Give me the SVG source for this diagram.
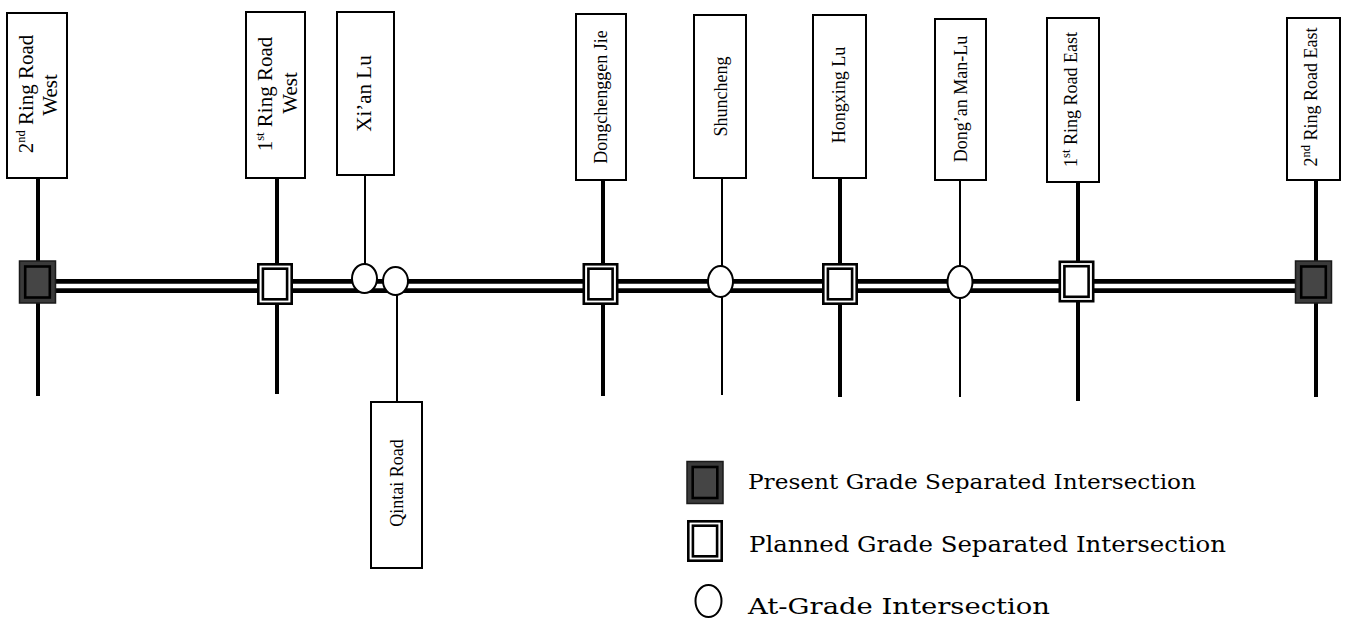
<svg xmlns="http://www.w3.org/2000/svg" xmlns:xlink="http://www.w3.org/1999/xlink" width="1347" height="619" viewBox="0 0 1347 619">
  <style>
    .box { fill: #fff; stroke: #000; stroke-width: 2; }
    .lbl { font-family: "Liberation Serif", "Times New Roman", serif; fill: #000; text-anchor: middle; }
    .lbl20 { font-size: 21px; }
    .lbl18 { font-size: 18px; }
    .sup { font-size: 12.5px; }
    .thick { stroke: #000; stroke-width: 4; fill: none; }
    .thin { stroke: #000; stroke-width: 2; fill: none; }
    .atgrade { fill: #fff; stroke: #000; stroke-width: 2; }
    .legend { font-family: "DejaVu Serif", "Liberation Serif", serif; fill: #000; }
  </style>
  <defs>
    <!-- existing grade-separated interchange -->
    <g id="sym-present">
      <rect x="-18" y="-21" width="36" height="42" fill="#3a3a3a" stroke="#1a1a1a" stroke-width="1.5"/>
      <rect x="-12.3" y="-15.5" width="24.6" height="31" fill="#454545" stroke="#000" stroke-width="2.6"/>
    </g>
    <!-- planned grade-separated interchange -->
    <g id="sym-planned">
      <rect x="-16.7" y="-19.7" width="33.4" height="39.4" fill="#fff" stroke="#000" stroke-width="2.6"/>
      <rect x="-12.1" y="-15.3" width="24.2" height="30.6" fill="#fff" stroke="#000" stroke-width="2.6"/>
    </g>
  </defs>

  <rect width="1347" height="619" fill="#fff"/>

  <!-- cross streets and the main corridor -->
  <g id="connectors">
    <line class="thick" x1="38" y1="178" x2="38" y2="396"/>
    <line class="thick" x1="277" y1="178" x2="277" y2="394"/>
    <line class="thin" x1="365" y1="175" x2="365" y2="272"/>
    <line class="thin" x1="397" y1="288" x2="397" y2="402"/>
    <line class="thick" x1="603" y1="180" x2="603" y2="396"/>
    <line class="thin" x1="722" y1="178" x2="722" y2="395"/>
    <line class="thick" x1="840" y1="178" x2="840" y2="397"/>
    <line class="thin" x1="960" y1="180" x2="960" y2="397"/>
    <line class="thick" x1="1078" y1="182" x2="1078" y2="401"/>
    <line class="thick" x1="1316" y1="180" x2="1316" y2="397"/>
    <!-- main road: double line -->
    <line x1="38" y1="286" x2="1316" y2="286" stroke="#000" stroke-width="14"/>
    <line x1="38" y1="286" x2="1316" y2="286" stroke="#fff" stroke-width="4.5"/>
  </g>

  <!-- intersections along the corridor -->
  <g id="intersections">
    <use xlink:href="#sym-present" x="37.5" y="282"/>
    <use xlink:href="#sym-planned" x="275" y="284"/>
    <ellipse class="atgrade" cx="364.5" cy="278.5" rx="12.5" ry="14.5"/>
    <ellipse class="atgrade" cx="395.5" cy="281" rx="12.5" ry="14"/>
    <use xlink:href="#sym-planned" x="600.5" y="284"/>
    <ellipse class="atgrade" cx="720.5" cy="281.5" rx="12.5" ry="15.5"/>
    <use xlink:href="#sym-planned" x="840" y="284"/>
    <ellipse class="atgrade" cx="960" cy="282" rx="12.5" ry="16"/>
    <use xlink:href="#sym-planned" x="1076.5" y="281.5"/>
    <use xlink:href="#sym-present" x="1313.5" y="282"/>
  </g>

  <!-- street name boxes -->
  <g id="node-2nd-ring-west">
    <rect class="box" x="7" y="13" width="60" height="165"/>
    <text class="lbl lbl20" transform="translate(33,94) rotate(-90)">2<tspan class="sup" dy="-8">nd</tspan><tspan dy="8"> Ring Road</tspan></text>
    <text class="lbl lbl20" transform="translate(57,95) rotate(-90)">West</text>
  </g>
  <g id="node-1st-ring-west">
    <rect class="box" x="246" y="12" width="59" height="166"/>
    <text class="lbl lbl20" transform="translate(272,94) rotate(-90)">1<tspan class="sup" dy="-8">st</tspan><tspan dy="8"> Ring Road</tspan></text>
    <text class="lbl lbl20" transform="translate(296.5,93) rotate(-90)">West</text>
  </g>
  <g id="node-xian-lu">
    <rect class="box" x="337" y="12" width="57" height="163"/>
    <text class="lbl lbl20" transform="translate(371,93.5) rotate(-90)">Xi’an Lu</text>
  </g>
  <g id="node-qintai-road">
    <rect class="box" x="371" y="402" width="51" height="166"/>
    <text class="lbl lbl18" transform="translate(403,483) rotate(-90)">Qintai Road</text>
  </g>
  <g id="node-dongchenggen-jie">
    <rect class="box" x="576" y="14" width="50" height="166"/>
    <text class="lbl lbl18" transform="translate(607,97) rotate(-90)">Dongchenggen Jie</text>
  </g>
  <g id="node-shuncheng">
    <rect class="box" x="694" y="15" width="52" height="163"/>
    <text class="lbl lbl18" transform="translate(727,96.5) rotate(-90)">Shuncheng</text>
  </g>
  <g id="node-hongxing-lu">
    <rect class="box" x="813" y="15" width="53" height="163"/>
    <text class="lbl lbl18" transform="translate(845,95) rotate(-90)">Hongxing Lu</text>
  </g>
  <g id="node-dongan-man-lu">
    <rect class="box" x="935" y="19" width="51" height="161"/>
    <text class="lbl lbl18" transform="translate(967,99) rotate(-90)">Dong’an Man-Lu</text>
  </g>
  <g id="node-1st-ring-east">
    <rect class="box" x="1047" y="18" width="52" height="164"/>
    <text class="lbl lbl18" transform="translate(1077,99.5) rotate(-90)">1<tspan class="sup" dy="-7">st</tspan><tspan dy="7"> Ring Road East</tspan></text>
  </g>
  <g id="node-2nd-ring-east">
    <rect class="box" x="1287" y="18" width="53" height="162"/>
    <text class="lbl lbl18" transform="translate(1317,97) rotate(-90)">2<tspan class="sup" dy="-7">nd</tspan><tspan dy="7"> Ring Road East</tspan></text>
  </g>

  <!-- key -->
  <g id="legend">
    <use xlink:href="#sym-present" x="705" y="482.5"/>
    <text class="legend" x="748" y="489" font-size="20" textLength="448" lengthAdjust="spacingAndGlyphs">Present Grade Separated Intersection</text>
    <use xlink:href="#sym-planned" x="705" y="541"/>
    <text class="legend" x="749" y="552" font-size="23" textLength="477" lengthAdjust="spacingAndGlyphs">Planned Grade Separated Intersection</text>
    <ellipse class="atgrade" cx="708.5" cy="601" rx="13" ry="16" stroke-width="1.6"/>
    <text class="legend" x="748" y="614" font-size="23" textLength="302" lengthAdjust="spacingAndGlyphs">At-Grade Intersection</text>
  </g>
</svg>
